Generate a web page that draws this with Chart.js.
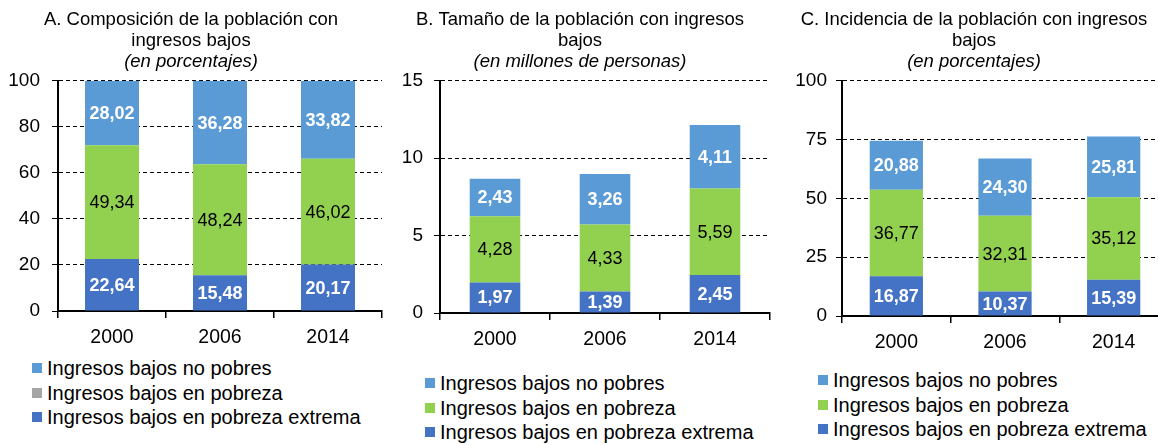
<!DOCTYPE html>
<html>
<head>
<meta charset="utf-8">
<script src="https://cdn.jsdelivr.net/npm/chart.js@4.4.0/dist/chart.umd.min.js"></script>
<style>
  html, body { margin: 0; padding: 0; background: #fff; overflow: hidden; }
  body { width: 1158px; height: 445px; position: relative; font-family: "Liberation Sans", Arial, sans-serif; }
  canvas { position: absolute; top: 0; }
  .legend { position: absolute; font-size: 20px; color: #000; line-height: 24.5px; }
  .legend div { display: flex; align-items: center; white-space: nowrap; }
  .legend .box { width: 10px; height: 10px; margin-right: 5px; flex: none; }
</style>
</head>
<body>
<canvas id="chartA" width="385" height="356" style="left:0px"></canvas>
<canvas id="chartB" width="385" height="358" style="left:390px"></canvas>
<canvas id="chartC" width="390" height="361" style="left:780px"></canvas>
<div class="legend" id="legendA" style="left:32px;top:356px"></div>
<div class="legend" id="legendB" style="left:425px;top:371px"></div>
<div class="legend" id="legendC" style="left:818px;top:368px"></div>
<script>
// Categories and series names
const years = ["2000", "2006", "2014"];
const seriesNames = ["Ingresos bajos no pobres", "Ingresos bajos en pobreza", "Ingresos bajos en pobreza extrema"];

// A. Composición (porcentajes)
const compExtrema = [22.64, 15.48, 20.17];
const compPobreza = [49.34, 48.24, 46.02];
const compNoPobres = [28.02, 36.28, 33.82];

// B. Tamaño (millones de personas)
const tamExtrema = [1.97, 1.39, 2.45];
const tamPobreza = [4.28, 4.33, 5.59];
const tamNoPobres = [2.43, 3.26, 4.11];

// C. Incidencia (porcentajes)
const incExtrema = [16.87, 10.37, 15.39];
const incPobreza = [36.77, 32.31, 35.12];
const incNoPobres = [20.88, 24.30, 25.81];

// Colors
const colNoPobres = "#5B9BD5";
const colPobreza = "#92D050";
const colExtrema = "#4472C4";
const legendColorsA = [colNoPobres, "#A5A5A5", colExtrema];
const legendColors = [colNoPobres, colPobreza, colExtrema];

const FONT = "'Liberation Sans', Arial, sans-serif";

// Draws the value in the middle of each bar segment
const barLabels = {
  id: "barLabels",
  afterDatasetsDraw(chart, args, opts) {
    const ctx = chart.ctx;
    chart.data.datasets.forEach((ds, i) => {
      const meta = chart.getDatasetMeta(i);
      meta.data.forEach((bar, j) => {
        const txt = ds.data[j].toFixed(2).replace(".", ",");
        ctx.save();
        ctx.font = opts.weights[i] + " 18px " + FONT;
        ctx.fillStyle = opts.colors[i];
        ctx.textAlign = "center";
        ctx.textBaseline = "middle";
        ctx.fillText(txt, bar.x, (bar.y + bar.base) / 2 + 1);
        ctx.restore();
      });
    });
  }
};

function makeChart(id, title, subtitle, extrema, pobreza, noPobres, yMax, yStep, yWidth, tickPad, barPct, padRight) {
  return new Chart(document.getElementById(id), {
    type: "bar",
    data: {
      labels: years,
      datasets: [
        { label: seriesNames[2], data: extrema, backgroundColor: colExtrema },
        { label: seriesNames[1], data: pobreza, backgroundColor: colPobreza },
        { label: seriesNames[0], data: noPobres, backgroundColor: colNoPobres }
      ]
    },
    options: {
      responsive: false,
      animation: false,
      barPercentage: barPct,
      categoryPercentage: 1,
      layout: { padding: { left: 0, right: padRight, top: 9, bottom: 0 } },
      plugins: {
        legend: { display: false },
        tooltip: { enabled: false },
        title: {
          display: true,
          text: title,
          color: "#000",
          font: { family: FONT, size: 18.5, weight: "normal", lineHeight: 1.15 },
          padding: { top: 0, bottom: 0 }
        },
        subtitle: {
          display: true,
          text: subtitle,
          color: "#000",
          font: { family: FONT, size: 18.5, style: "italic", lineHeight: 1.15 },
          padding: { top: 0, bottom: 8 }
        },
        barLabels: {
          colors: ["#fff", "#000", "#fff"],
          weights: ["bold", "normal", "bold"]
        }
      },
      scales: {
        x: {
          stacked: true,
          afterFit: s => { s.height = 45; },
          grid: { display: true, drawOnChartArea: false, offset: true, color: "#000", tickLength: 7, lineWidth: 1.5 },
          border: { color: "#000", width: 2 },
          ticks: { color: "#000", padding: 8, font: { family: FONT, size: 19.5 } }
        },
        y: {
          stacked: true,
          min: 0,
          max: yMax,
          afterFit: s => { s.width = yWidth; },
          ticks: { stepSize: yStep, color: "#000", padding: tickPad, font: { family: FONT, size: 19 } },
          grid: {
            color: c => (c.tick && c.tick.value === 0 ? "rgba(0,0,0,0)" : "#000"),
            lineWidth: 1,
            tickColor: "#000",
            tickLength: 6
          },
          border: { color: "#000", width: 2, dash: [4, 3] }
        }
      }
    },
    plugins: [barLabels]
  });
}

makeChart("chartA", ["A. Composición de la población con", "ingresos bajos"], "(en porcentajes)",
  compExtrema, compPobreza, compNoPobres, 100, 20, 58, 12, 0.5, 3);
makeChart("chartB", ["B. Tamaño de la población con ingresos", "bajos"], "(en millones de personas)",
  tamExtrema, tamPobreza, tamNoPobres, 15, 5, 50, 11, 0.46, 5);
makeChart("chartC", ["C. Incidencia de la población con ingresos", "bajos"], "(en porcentajes)",
  incExtrema, incPobreza, incNoPobres, 100, 25, 62, 9, 0.49, 2);

// Legends (listed top to bottom like the original)
function buildLegend(id, colors) {
  const el = document.getElementById(id);
  seriesNames.forEach((name, i) => {
    const row = document.createElement("div");
    const box = document.createElement("span");
    box.className = "box";
    box.style.background = colors[i];
    row.appendChild(box);
    row.appendChild(document.createTextNode(name));
    el.appendChild(row);
  });
}
buildLegend("legendA", legendColorsA);
buildLegend("legendB", legendColors);
buildLegend("legendC", legendColors);
</script>
</body>
</html>
